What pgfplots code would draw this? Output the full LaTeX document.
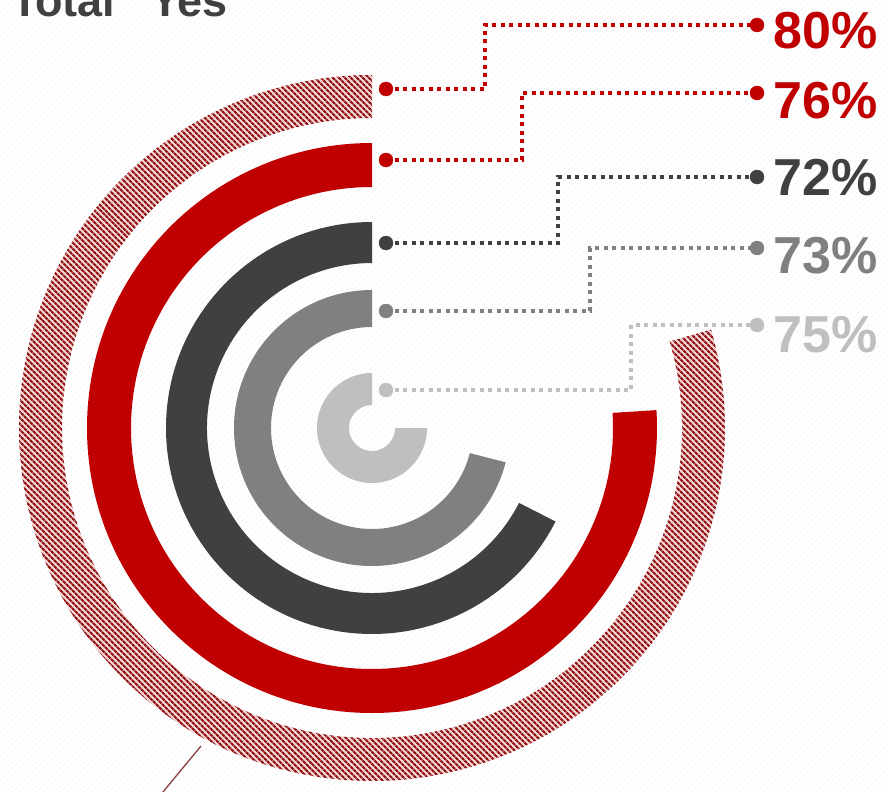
\documentclass[border=0pt]{standalone}
\usepackage{pgfplots}
\pgfplotsset{compat=1.18}
\usepackage{pgfplotstable}
\usepackage{fontspec}
\setmainfont{Liberation Sans}
\usetikzlibrary{patterns.meta}

\definecolor{cRed}{HTML}{C00000}
\definecolor{cDark}{HTML}{404040}
\definecolor{cMid}{HTML}{808080}
\definecolor{cLight}{HTML}{BFBFBF}
\definecolor{hatchRed}{HTML}{921818}
\definecolor{hatchBg}{HTML}{F4D4D4}
\colorlet{col0}{cRed}
\colorlet{col1}{cRed}
\colorlet{col2}{cDark}
\colorlet{col3}{cMid}
\colorlet{col4}{cLight}

\tikzset{
  ring0/.style={preaction={fill=hatchBg}, pattern={Lines[angle=-45,distance=4pt,line width=2.2pt]}, pattern color=hatchRed},
  ring1/.style={fill=cRed},
  ring2/.style={fill=cDark},
  ring3/.style={fill=cMid},
  ring4/.style={fill=cLight},
  lead/.style={line width=3.5pt, dash pattern=on 4pt off 4.5pt},
}
\newcommand\lbl{\bfseries\fontsize{52}{60}\selectfont}

% one row per ring, outermost first
% arc = share of the full circle the ring sweeps (clockwise from 12 o'clock)
% rin/rout = ring radii, yl/yr/xe/yt = leader line and label positions (px)
\pgfplotstableread{
pct arc  rin rout yl  yr  xe  yt
80  79.5 310 353  89  25  485 49
76  76   241 285  160 93  522 118
72  67.5 165 206  243 177 558 195
73  71   101 138  311 248 590 273
75  75   23  55   390 325 631 352
}\rings

\begin{document}
\begin{tikzpicture}
\begin{axis}[
    x=1pt, y=1pt,
    xmin=0, xmax=887, ymin=0, ymax=792,
    y dir=reverse,
    hide axis,
    axis background/.style={preaction={fill=white}, pattern={Lines[angle=45,distance=4pt,line width=0.8pt]}, pattern color=black!4},
]
\coordinate (tl) at (axis cs:0,0);
\coordinate (br) at (axis cs:887,792);

\node[anchor=base west, inner sep=0pt, text=cDark, font=\bfseries\fontsize{45}{54}\selectfont]
  at (axis cs:11,17) {Total “Yes”};

\addplot[color=hatchRed!60!gray, line width=1.3pt] coordinates {(201,746) (158,798)};

\pgfplotsinvokeforeach{0,...,4}{
  \pgfplotstablegetelem{#1}{arc}\of\rings \pgfmathsetmacro\rgEnd{90+3.6*\pgfplotsretval}
  \pgfplotstablegetelem{#1}{rin}\of\rings \let\rgIn\pgfplotsretval
  \pgfplotstablegetelem{#1}{rout}\of\rings \let\rgOut\pgfplotsretval
  \pgfmathsetmacro\rgW{\rgOut-\rgIn}
  \pgfplotstablegetelem{#1}{yl}\of\rings \let\rgYl\pgfplotsretval
  \pgfplotstablegetelem{#1}{yr}\of\rings \let\rgYr\pgfplotsretval
  \pgfplotstablegetelem{#1}{xe}\of\rings \let\rgXe\pgfplotsretval
  \pgfplotstablegetelem{#1}{yt}\of\rings \let\rgYt\pgfplotsretval
  \pgfplotstablegetelem{#1}{pct}\of\rings \let\rgPct\pgfplotsretval
  \edef\next{%
    \noexpand\path[ring#1] (axis cs:372,428) ++(90:\rgOut pt)
      arc[start angle=90,end angle=\rgEnd,radius=\rgOut pt]
      -- ++(\rgEnd+180:\rgW pt)
      arc[start angle=\rgEnd,end angle=90,radius=\rgIn pt] -- cycle;
    \noexpand\addplot[lead, col#1] coordinates {(386,\rgYl) (\rgXe,\rgYl) (\rgXe,\rgYr) (757,\rgYr)};
    \noexpand\addplot[only marks, mark=*, mark size=7pt, col#1] coordinates {(386,\rgYl) (757,\rgYr)};
    \noexpand\node[anchor=base west, inner sep=0pt, text=col#1, font=\noexpand\lbl]
      at (axis cs:773,\rgYt) {\rgPct\noexpand\%};
  }\next
}
\end{axis}
\pgfresetboundingbox
\path[use as bounding box] (tl) rectangle (br);
\end{tikzpicture}
\end{document}
